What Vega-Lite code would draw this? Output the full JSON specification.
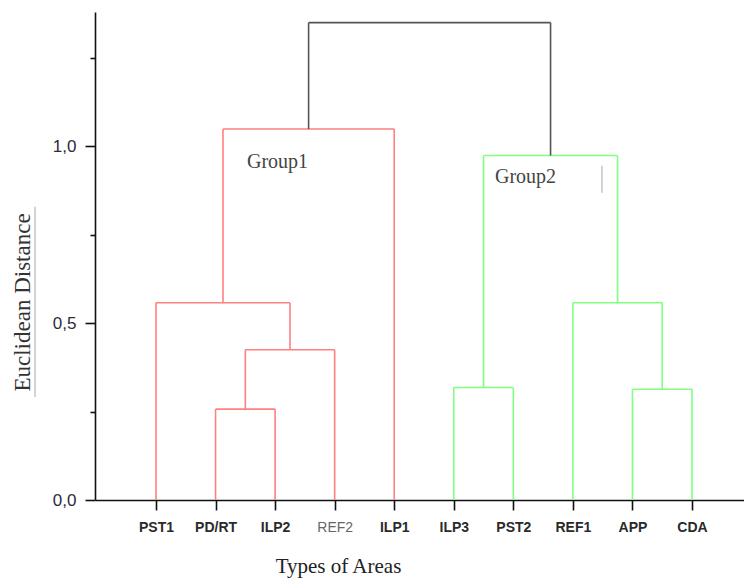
{
  "$schema": "https://vega.github.io/schema/vega-lite/v6.json",
  "width": 649,
  "height": 488,
  "autosize": {"type": "none"},
  "padding": {"left": 95, "top": 12, "right": 0, "bottom": 80},
  "background": "white",
  "config": {"view": {"stroke": null}},
  "datasets": {
    "links": [
      {"x1": 1, "x2": 1, "y1": 0, "y2": 0.558, "grp": "g1"},
      {"x1": 2, "x2": 2, "y1": 0, "y2": 0.257, "grp": "g1"},
      {"x1": 3, "x2": 3, "y1": 0, "y2": 0.257, "grp": "g1"},
      {"x1": 2, "x2": 3, "y1": 0.257, "y2": 0.257, "grp": "g1"},
      {"x1": 2.5, "x2": 2.5, "y1": 0.257, "y2": 0.425, "grp": "g1"},
      {"x1": 4, "x2": 4, "y1": 0, "y2": 0.425, "grp": "g1"},
      {"x1": 2.5, "x2": 4, "y1": 0.425, "y2": 0.425, "grp": "g1"},
      {"x1": 3.25, "x2": 3.25, "y1": 0.425, "y2": 0.558, "grp": "g1"},
      {"x1": 1, "x2": 3.25, "y1": 0.558, "y2": 0.558, "grp": "g1"},
      {"x1": 2.125, "x2": 2.125, "y1": 0.558, "y2": 1.049, "grp": "g1"},
      {"x1": 5, "x2": 5, "y1": 0, "y2": 1.049, "grp": "g1"},
      {"x1": 2.125, "x2": 5, "y1": 1.049, "y2": 1.049, "grp": "g1"},
      {"x1": 6, "x2": 6, "y1": 0, "y2": 0.318, "grp": "g2"},
      {"x1": 7, "x2": 7, "y1": 0, "y2": 0.318, "grp": "g2"},
      {"x1": 6, "x2": 7, "y1": 0.318, "y2": 0.318, "grp": "g2"},
      {"x1": 6.5, "x2": 6.5, "y1": 0.318, "y2": 0.974, "grp": "g2"},
      {"x1": 9, "x2": 9, "y1": 0, "y2": 0.313, "grp": "g2"},
      {"x1": 10, "x2": 10, "y1": 0, "y2": 0.313, "grp": "g2"},
      {"x1": 9, "x2": 10, "y1": 0.313, "y2": 0.313, "grp": "g2"},
      {"x1": 9.5, "x2": 9.5, "y1": 0.313, "y2": 0.558, "grp": "g2"},
      {"x1": 8, "x2": 8, "y1": 0, "y2": 0.558, "grp": "g2"},
      {"x1": 8, "x2": 9.5, "y1": 0.558, "y2": 0.558, "grp": "g2"},
      {"x1": 8.75, "x2": 8.75, "y1": 0.558, "y2": 0.974, "grp": "g2"},
      {"x1": 6.5, "x2": 8.75, "y1": 0.974, "y2": 0.974, "grp": "g2"},
      {"x1": 3.5625, "x2": 3.5625, "y1": 1.049, "y2": 1.35, "grp": "top"},
      {"x1": 7.625, "x2": 7.625, "y1": 0.974, "y2": 1.35, "grp": "top"},
      {"x1": 3.5625, "x2": 7.625, "y1": 1.35, "y2": 1.35, "grp": "top"},
      {"x1": 8.488, "x2": 8.488, "y1": 0.869, "y2": 0.945, "grp": "deco"},
      {"x1": -1.031, "x2": -1.031, "y1": 0.291, "y2": 0.829, "grp": "deco"}
    ],
    "labels": [
      {"label": "Group1", "x": 2.528, "y": 0.956},
      {"label": "Group2", "x": 6.692, "y": 0.914}
    ]
  },
  "layer": [
    {
      "data": {"name": "links"},
      "mark": {"type": "rule", "strokeWidth": 1.6, "clip": false},
      "encoding": {
        "x": {
          "field": "x1", "type": "quantitative",
          "scale": {"domain": [-0.024, 10.873], "nice": false, "zero": false},
          "axis": {
            "values": [1, 2, 3, 4, 5, 6, 7, 8, 9, 10],
            "labelExpr": "['PST1','PD/RT','ILP2','REF2','ILP1','ILP3','PST2','REF1','APP','CDA'][datum.value - 1]",
            "grid": false,
            "domainColor": "#111111", "domainWidth": 1.6,
            "tickColor": "#111111", "tickWidth": 1.6, "tickSize": 10,
            "labelFont": "Liberation Sans Narrow, Liberation Sans, Arial",
            "labelFontSize": 14,
            "labelFontWeight": {"condition": {"test": "datum.value == 4", "value": "normal"}, "value": "bold"},
            "labelColor": {"condition": {"test": "datum.value == 4", "value": "#666666"}, "value": "#2a2a2a"},
            "labelPadding": 10,
            "labelAngle": 0,
            "title": "Types of Areas",
            "titleFont": "Liberation Serif",
            "titleFontSize": 21,
            "titleFontWeight": "normal",
            "titleColor": "#222222",
            "titleX": 243,
            "titleY": 72,
            "titleAlign": "center",
            "titleBaseline": "alphabetic"
          }
        },
        "x2": {"field": "x2"},
        "y": {
          "field": "y1", "type": "quantitative",
          "scale": {"domain": [0, 1.38], "nice": false},
          "axis": {
            "values": [0, 0.25, 0.5, 0.75, 1, 1.25],
            "labelExpr": "round(datum.value * 100) % 50 == 0 ? replace(format(datum.value, '.1f'), '.', ',') : ''",
            "grid": false,
            "domainColor": "#111111", "domainWidth": 1.6,
            "tickColor": "#111111", "tickWidth": 1.6,
            "tickSize": {"condition": {"test": "round(datum.value * 100) % 50 == 0", "value": 10}, "value": 5},
            "labelFont": "Liberation Sans",
            "labelFontSize": 17,
            "labelColor": "#2b2b3b",
            "labelPadding": 9,
            "title": "Euclidean Distance",
            "titleFont": "Liberation Serif",
            "titleFontSize": 23,
            "titleFontWeight": "normal",
            "titleColor": "#333333",
            "titleAngle": -90,
            "titleX": -66,
            "titleY": 290,
            "titleAlign": "center",
            "titleBaseline": "alphabetic"
          }
        },
        "y2": {"field": "y2"},
        "color": {
          "field": "grp", "type": "nominal",
          "scale": {"domain": ["g1", "g2", "top", "deco"], "range": ["#ff8080", "#80ff80", "#555555", "#c8c8c8"]},
          "legend": null
        }
      }
    },
    {
      "data": {"name": "labels"},
      "mark": {"type": "text", "font": "Liberation Serif", "fontSize": 20, "color": "#444444", "align": "left", "baseline": "middle"},
      "encoding": {
        "x": {"field": "x", "type": "quantitative"},
        "y": {"field": "y", "type": "quantitative"},
        "text": {"field": "label"}
      }
    }
  ]
}
